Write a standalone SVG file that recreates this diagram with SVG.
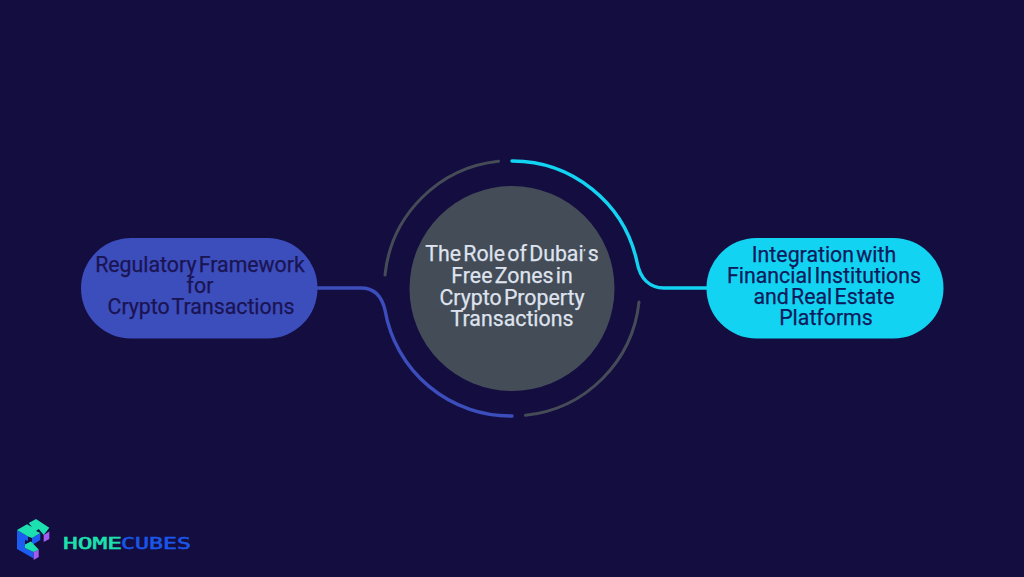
<svg xmlns="http://www.w3.org/2000/svg" width="1024" height="577" viewBox="0 0 1024 577">
<style>
.t{font-family:Roboto,"Liberation Sans",sans-serif;font-size:21.300px;font-weight:400;text-anchor:middle;word-spacing:-3px;stroke-width:.25px}
.l{fill:none;stroke-width:3.400;stroke-linecap:round}
.g{stroke:#464c57;stroke-width:3}
.b{font-family:"DejaVu Sans Mono",monospace;font-size:15px;stroke-width:.5px}
</style>
<rect width="1024" height="577" fill="#140d40"/>
<g id="connectors">
<path class="l g" d="M385 275A127.5 127.5 0 0 1 498.500 161.200"/>
<path class="l g" d="M639 302A127.5 127.5 0 0 1 525.500 415.300"/>
<path class="l" stroke="#12d4f2" d="M512 161A127.5 127.5 0 0 1 637 262C640 279 650 288 664 288L707 288"/>
<path class="l" stroke="#3c4dbc" d="M318 288L361 288C375 288 382 297 385 310A127.5 127.5 0 0 0 512 416"/>
</g>
<g id="center">
<circle cx="512" cy="288.500" r="102.500" fill="#444c58"/>
<g fill="#dfe3ee" stroke="#dfe3ee">
<text class="t" x="512" y="261">The Role of Dubai<tspan font-size="9" dy="-5">’</tspan><tspan dy="5"> s</tspan></text>
<text class="t" x="512" y="283">Free Zones in</text>
<text class="t" x="512" y="304.500">Crypto Property</text>
<text class="t" x="512" y="326">Transactions</text>
</g>
</g>
<g id="left-node">
<rect x="81" y="238" width="236.500" height="100.500" rx="50" fill="#3c4dbc"/>
<g fill="#1a1452" stroke="#1a1452">
<text class="t" x="200" y="271.500">Regulatory Framework</text>
<text class="t" x="200" y="293">for</text>
<text class="t" x="201" y="314">Crypto Transactions</text>
</g>
</g>
<g id="right-node">
<rect x="706.500" y="238" width="237" height="100.500" rx="50" fill="#12d4f2"/>
<g fill="#0c1a5c" stroke="#0c1a5c">
<text class="t" x="824" y="261.500">Integration with</text>
<text class="t" x="824" y="282.500">Financial Institutions</text>
<text class="t" x="824" y="304">and Real Estate</text>
<text class="t" x="826" y="325">Platforms</text>
</g>
</g>
<g id="logo">
<path fill="#1c5cf0" d="M17 530L28 536.500V541L25 540V548L33.700 552V558.500L17 549Z"/>
<path fill="#1c5cf0" d="M32 538L40.300 533V540L32 545Z"/>
<path fill="#a45cf0" d="M43.700 535L49.300 531.500V539L43.700 542ZM33.700 552L38.700 549.500V557L33.700 560ZM25 545L31 541.500V544.500L25 548Z"/>
<path fill="#1de0b0" d="M17 530L27 524.300L32 527L28.700 523L36 519L49.300 527.700L43.700 535L38.700 529L36 531L40.300 533L32 538L28 536.500Z"/>
<path fill="#1de0b0" d="M25 544.500L31 541.500L38.700 549.500L33.700 552L25 548Z"/>
<text class="b" x="63" y="549" textLength="59" lengthAdjust="spacingAndGlyphs" fill="#1de0b0" stroke="#1de0b0">HOME</text>
<text class="b" x="121" y="549" textLength="70" lengthAdjust="spacingAndGlyphs" fill="#1a56e8" stroke="#1a56e8">CUBES</text>
</g>
</svg>
